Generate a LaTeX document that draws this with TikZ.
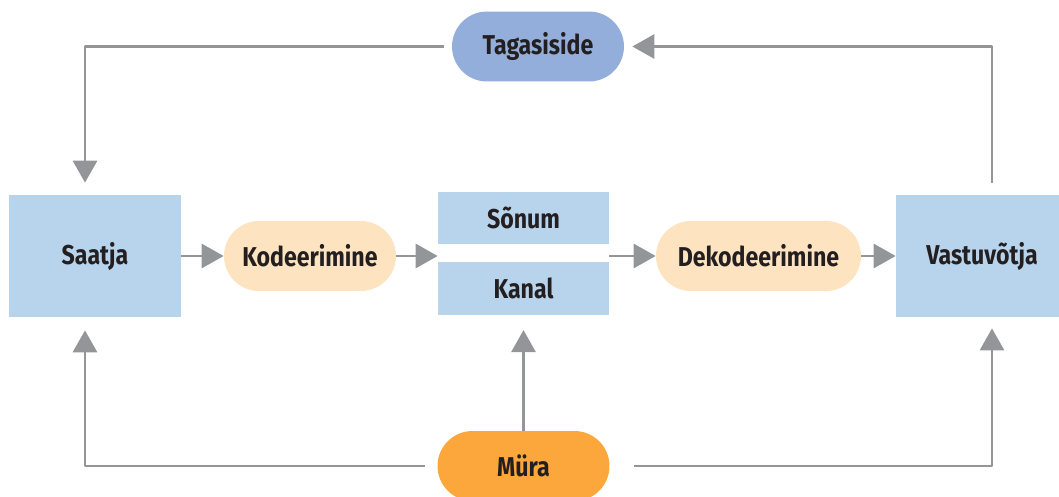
\documentclass[tikz,border=0pt]{standalone}
\usepackage{fontspec}
\setmainfont[FakeStretch=0.85]{Fira Sans}
\usetikzlibrary{arrows.meta}
\definecolor{boxblue}{HTML}{B8D3EC}
\definecolor{pillblue}{HTML}{94AEDB}
\definecolor{peach}{HTML}{FDE3C0}
\definecolor{noise}{HTML}{FBA73B}
\definecolor{linegray}{HTML}{939598}
\definecolor{ink}{HTML}{231F20}
\tikzset{>={Triangle[length=4.4mm,width=4.8mm]}}
\tikzset{
  lbl/.style={font=\bfseries\fontsize{15.5}{17}\selectfont, text=ink, inner sep=0pt},
  block/.style={lbl, fill=boxblue, minimum width=3.44cm, minimum height=2.44cm},
  slab/.style={lbl, fill=boxblue, minimum width=3.42cm, minimum height=1.05cm},
  pill/.style={lbl, rounded corners=0.7cm, minimum width=3.44cm, minimum height=1.4cm},
  conn/.style={draw=linegray, line width=1.7pt, ->, color=linegray}
}

\begin{document}
\begin{tikzpicture}[x=0.02cm, y=-0.02cm, line join = round]
    \useasboundingbox (0,0) rectangle (1059,497);
    \node[block] (saa) at (95,256) {Saatja};
    \node[pill, fill=peach] (kod) at (310,256) {Kodeerimine};
    \node[slab] (son) at (523.5,218) {Sõnum};
    \node[slab] (kan) at (523.5,288.5) {Kanal};
    \node[pill, fill=peach, minimum width=4.1cm] (dek) at (758.5,256) {Dekodeerimine};
    \node[block] (vas) at (982,256) {Vastuvõtja};
    \node[pill, fill=pillblue] (tag) at (538,46.5) {Tagasiside};
    \node[pill, fill=noise] (mur) at (523.5,466) {Müra};

    % main line
    \draw[conn] (saa.east) -- (kod.west);
    \draw[conn] (kod.east) -- (kod.east -| kan.west);
    \draw[conn] (dek.west -| kan.east) -- (dek.west);
    \draw[conn] (dek.east) -- (vas.west);

    % feedback
    \draw[conn, shorten <=0.24cm, shorten >=0.16cm] ([xshift=0.2cm]vas.north) |- (tag.east);
    \draw[conn, shorten <=0.16cm, shorten >=0.24cm] (tag.west) -| ([xshift=-0.2cm]saa.north);

    % noise
    \draw[conn, shorten >=0.3cm] (mur.north) -- (kan.south);
    \draw[conn, shorten <=0.24cm, shorten >=0.26cm] (mur.west) -| ([xshift=-0.2cm]saa.south);
    \draw[conn, shorten <=0.48cm, shorten >=0.22cm] (mur.east) -| ([xshift=0.2cm]vas.south);
\end{tikzpicture}
\end{document}
